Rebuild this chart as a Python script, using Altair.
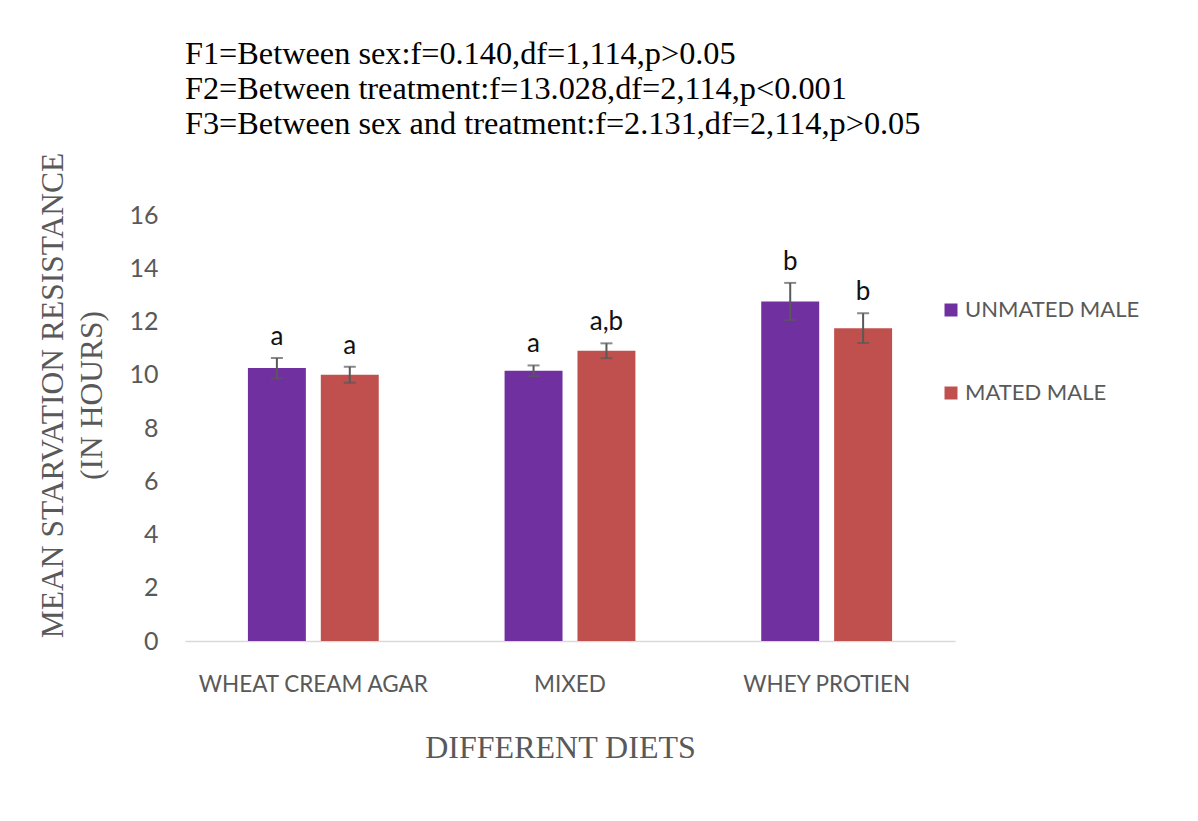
import altair as alt
import pandas as pd

diets = ["WHEAT CREAM AGAR", "MIXED", "WHEY PROTIEN"]
groups = ["UNMATED MALE", "MATED MALE"]
unmated_mean = [10.25, 10.15, 12.75]
mated_mean = [10.0, 10.9, 11.75]
unmated_err = [0.38, 0.2, 0.7]
mated_err = [0.3, 0.28, 0.56]
unmated_letters = ["a", "a", "b"]
mated_letters = ["a", "a,b", "b"]
colors = ["#7030A0", "#C0504D"]
y_ticks = [0, 2, 4, 6, 8, 10, 12, 14, 16]
title_lines = [
    "F1=Between sex:f=0.140,df=1,114,p>0.05",
    "F2=Between treatment:f=13.028,df=2,114,p<0.001",
    "F3=Between sex and treatment:f=2.131,df=2,114,p>0.05",
]

rows = []
for i, d in enumerate(diets):
    rows.append({"diet": d, "group": groups[0], "mean": unmated_mean[i],
                 "lo": unmated_mean[i] - unmated_err[i], "hi": unmated_mean[i] + unmated_err[i],
                 "letter": unmated_letters[i]})
    rows.append({"diet": d, "group": groups[1], "mean": mated_mean[i],
                 "lo": mated_mean[i] - mated_err[i], "hi": mated_mean[i] + mated_err[i],
                 "letter": mated_letters[i]})
df = pd.DataFrame(rows)

GRAY = "#595959"
SANS = "Lato"
SERIF = "Liberation Serif"

base = alt.Chart(df).encode(
    x=alt.X("diet:N", sort=diets,
            scale=alt.Scale(paddingInner=0, paddingOuter=0),
            axis=alt.Axis(title="DIFFERENT DIETS", labelAngle=0, ticks=False,
                          domainColor="#D9D9D9", domainWidth=1.5,
                          labelFont=SANS, labelFontSize=22.5, labelColor=GRAY,
                          labelPadding=32, labelBaseline="top", labelLimit=0,
                          titleFont=SERIF, titleFontSize=32, titleFontWeight="normal",
                          titleColor=GRAY, titleX=375, titleY=106,
                          titleBaseline="middle", titleAlign="center")),
    xOffset=alt.XOffset("group:N", sort=groups,
                        scale=alt.Scale(paddingInner=0.205, paddingOuter=0.863)),
)

bars = base.mark_bar().encode(
    y=alt.Y("mean:Q", scale=alt.Scale(domain=[0, 16], nice=False),
            axis=alt.Axis(title=["MEAN STARVATION RESISTANCE", "(IN HOURS)"],
                          values=y_ticks, domain=False, ticks=False, grid=False,
                          labelFont=SANS, labelFontSize=25, labelColor=GRAY,
                          labelPadding=27,
                          titleFont=SERIF, titleFontSize=31.5, titleFontWeight="normal",
                          titleColor=GRAY, titleLineHeight=39, titleLimit=0,
                          titleX=-132, titleY=180, titleAngle=270,
                          titleBaseline="middle", titleAlign="center")),
    color=alt.Color("group:N", sort=groups,
                    scale=alt.Scale(domain=groups, range=colors),
                    legend=alt.Legend(title=None, orient="none", legendX=755, legendY=84,
                                      symbolType="square", symbolSize=169,
                                      symbolStrokeWidth=0, symbolOpacity=1,
                                      labelFont=SANS, labelFontSize=22,
                                      labelColor=GRAY, labelOffset=3, labelLimit=0,
                                      rowPadding=61, padding=0)),
)

rules = base.mark_rule(color=GRAY, strokeWidth=2).encode(y="lo:Q", y2="hi:Q")
cap_hi = base.mark_tick(color=GRAY, thickness=2, size=12).encode(y="hi:Q")
cap_lo = base.mark_tick(color=GRAY, thickness=2, size=12).encode(y="lo:Q")
letters = base.mark_text(baseline="alphabetic", dy=-13, font=SANS, fontSize=26,
                         color="#111111").encode(y="hi:Q", text="letter:N")

chart = alt.layer(bars, rules, cap_hi, cap_lo, letters).properties(
    width=770, height=426,
    padding={"left": 185, "top": 215, "right": 243, "bottom": 180},
    autosize=alt.AutoSizeParams(type="none"),
    title=alt.TitleParams(text=title_lines, anchor="start", frame="group",
                          font=SERIF, fontSize=32.3, fontWeight="normal",
                          color="black", lineHeight=35, offset=12),
).configure(background="white").configure_view(strokeWidth=0, stroke="transparent")

chart.save("out.html", embed_options={"renderer": "svg", "actions": False})
